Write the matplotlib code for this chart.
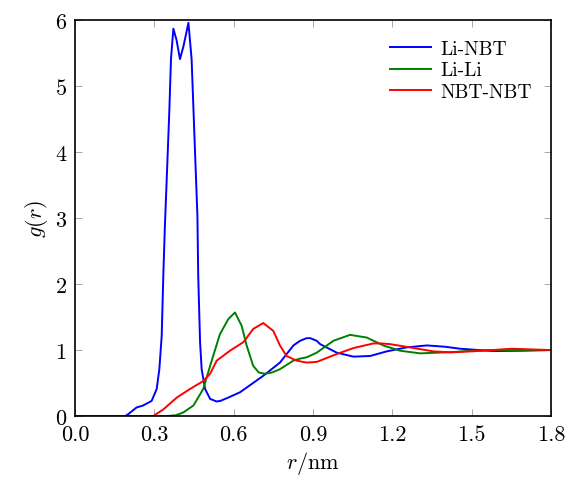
import numpy as np
import matplotlib
matplotlib.use('Agg')
import matplotlib.pyplot as plt

# radial distribution functions
r_li_nbt = [0.0, 0.19, 0.202, 0.233, 0.258, 0.29, 0.309, 0.319, 0.328, 0.334, 0.34, 0.347,
            0.357, 0.363, 0.372, 0.384, 0.397, 0.41, 0.429, 0.441, 0.448, 0.455, 0.463,
            0.466, 0.473, 0.479, 0.492, 0.511, 0.536, 0.55, 0.58, 0.624, 0.712, 0.775,
            0.826, 0.851, 0.876, 0.89, 0.914, 0.927, 0.99, 1.053, 1.116, 1.179, 1.254,
            1.33, 1.40, 1.456, 1.582, 1.7, 1.8]
g_li_nbt = [0.0, 0.0, 0.03, 0.13, 0.16, 0.23, 0.41, 0.71, 1.22, 2.13, 2.88, 3.6,
            4.65, 5.41, 5.87, 5.7, 5.41, 5.6, 5.96, 5.41, 4.65, 3.89, 3.03,
            2.13, 1.12, 0.71, 0.41, 0.26, 0.22, 0.23, 0.28, 0.36, 0.61, 0.81,
            1.07, 1.14, 1.18, 1.18, 1.14, 1.09, 0.96, 0.9, 0.91, 0.98, 1.04,
            1.07, 1.05, 1.02, 0.985, 0.99, 1.0]

r_li_li = [0.0, 0.347, 0.38, 0.41, 0.448, 0.485, 0.511, 0.548, 0.58, 0.605, 0.63, 0.649,
           0.674, 0.695, 0.719, 0.745, 0.775, 0.826, 0.851, 0.876, 0.914, 0.977, 1.04,
           1.103, 1.166, 1.229, 1.305, 1.368, 1.431, 1.5, 1.6, 1.7, 1.8]
g_li_li = [0.0, 0.0, 0.01, 0.055, 0.16, 0.41, 0.76, 1.24, 1.47, 1.57, 1.37, 1.07,
           0.76, 0.66, 0.64, 0.66, 0.71, 0.84, 0.87, 0.89, 0.96, 1.14, 1.23,
           1.19, 1.07, 0.99, 0.95, 0.96, 0.97, 0.99, 1.0, 1.0, 1.0]

r_nbt_nbt = [0.0, 0.296, 0.334, 0.385, 0.435, 0.485, 0.511, 0.536, 0.586, 0.637, 0.674,
             0.712, 0.75, 0.775, 0.80, 0.838, 0.875, 0.914, 0.99, 1.053, 1.128, 1.16,
             1.191, 1.267, 1.355, 1.42, 1.5, 1.58, 1.65, 1.72, 1.8]
g_nbt_nbt = [0.0, 0.0, 0.1, 0.28, 0.41, 0.53, 0.64, 0.84, 0.99, 1.12, 1.32,
             1.41, 1.29, 1.07, 0.91, 0.84, 0.81, 0.82, 0.94, 1.03, 1.1, 1.1,
             1.09, 1.04, 0.98, 0.965, 0.98, 1.0, 1.02, 1.01, 1.0]

xticks = [0.0, 0.3, 0.6, 0.9, 1.2, 1.5, 1.8]
yticks = [0, 1, 2, 3, 4, 5, 6]

plt.rcParams['font.family'] = 'cmr10'
plt.rcParams['mathtext.fontset'] = 'cm'
plt.rcParams['axes.formatter.use_mathtext'] = True

fig = plt.figure(figsize=(5.71, 4.81), dpi=100)
ax = fig.add_axes([0.1313, 0.133, 0.8337, 0.823])

ax.plot(r_li_nbt, g_li_nbt, color='#0000ff', lw=1.4, label='Li-NBT')
ax.plot(r_li_li, g_li_li, color='#008000', lw=1.4, label='Li-Li')
ax.plot(r_nbt_nbt, g_nbt_nbt, color='#ff0000', lw=1.4, label='NBT-NBT')

ax.set_xlim(0, 1.8)
ax.set_ylim(0, 6)
ax.set_xticks(xticks)
ax.set_xticklabels([f'{t:.1f}' for t in xticks])
ax.set_yticks(yticks)
ax.set_yticklabels([str(t) for t in yticks])
ax.tick_params(direction='in', top=True, right=True, length=5, width=0.6,
               color='#999999', labelsize=16, pad=6)
for s in ax.spines.values():
    s.set_linewidth(1.2)

ax.set_xlabel(r'$r/\mathrm{nm}$', fontsize=16)
ax.set_ylabel(r'$g(r)$', fontsize=16)

ax.legend(loc='upper right', frameon=False, fontsize=14, handlelength=2.1,
          handletextpad=0.45, labelspacing=0.2, borderaxespad=0.6)

fig.savefig('out.png', dpi=100)
